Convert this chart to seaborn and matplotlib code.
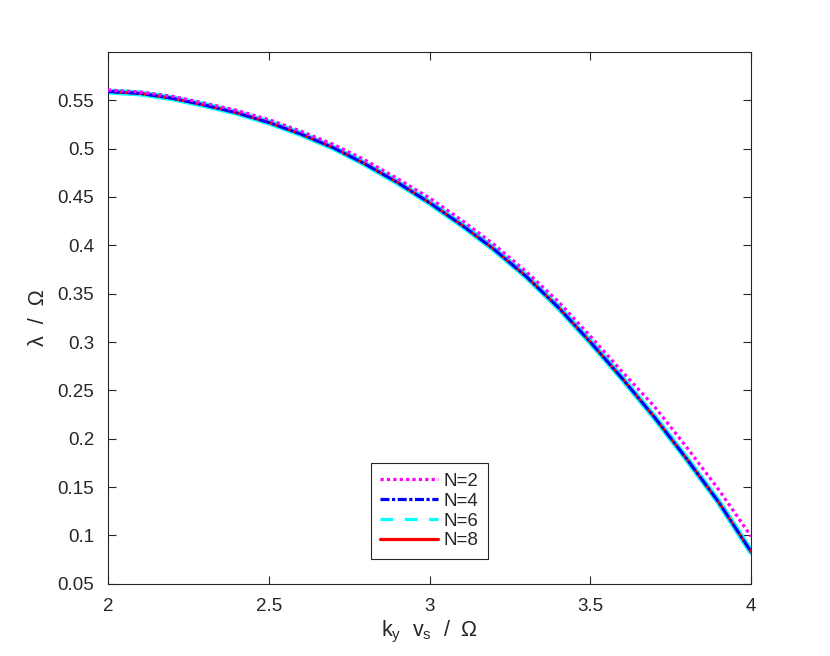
#!/usr/bin/env python3
"""Growth rate versus k_y v_s for several truncation orders N."""

import matplotlib
matplotlib.use("Agg")
import matplotlib.pyplot as plt
import pandas as pd
import seaborn as sns
from matplotlib.lines import Line2D

# Values
KY = [2.0, 2.1, 2.2, 2.3, 2.4, 2.5, 2.6, 2.7, 2.8, 2.9, 3.0,
      3.1, 3.2, 3.3, 3.4, 3.5, 3.6, 3.7, 3.8, 3.9, 4.0]
LAM_N2 = [0.5605, 0.5585, 0.554, 0.547, 0.5395, 0.530, 0.518, 0.5045,
          0.488, 0.469, 0.449, 0.426, 0.401, 0.373, 0.342, 0.306, 0.269,
          0.233, 0.191, 0.147, 0.099]
LAM_N4 = [0.559, 0.557, 0.552, 0.545, 0.537, 0.527, 0.515, 0.501, 0.484,
          0.465, 0.444, 0.421, 0.396, 0.368, 0.336, 0.300, 0.262, 0.222,
          0.179, 0.134, 0.083]
LAM_N6 = [0.559, 0.557, 0.552, 0.545, 0.537, 0.527, 0.515, 0.501, 0.484,
          0.465, 0.444, 0.421, 0.396, 0.368, 0.336, 0.300, 0.262, 0.222,
          0.179, 0.134, 0.083]
LAM_N8 = [0.559, 0.557, 0.552, 0.545, 0.537, 0.527, 0.515, 0.501, 0.484,
          0.465, 0.444, 0.421, 0.396, 0.368, 0.336, 0.300, 0.262, 0.222,
          0.179, 0.134, 0.083]
LABELS = ["N=2", "N=4", "N=6", "N=8"]


def main():
    sns.set_theme(style="ticks")
    plt.rcParams["font.family"] = ["Liberation Sans", "DejaVu Sans"]
    plt.rcParams["mathtext.fontset"] = "custom"
    plt.rcParams["mathtext.rm"] = "Liberation Sans"

    df = pd.DataFrame({"ky": KY, "N=2": LAM_N2, "N=4": LAM_N4,
                       "N=6": LAM_N6, "N=8": LAM_N8})

    fig = plt.figure(figsize=(8.3, 6.56), dpi=100)
    ax = fig.add_axes([0.130, 0.110, 0.775, 0.811])

    # (colour, dash pattern in plot, dash pattern in legend, width, zorder)
    styles = {"N=2": ("#ff00ff", (1.0, 1.0), (1.0, 1.0), 2.3, 5),
              "N=4": ("#0000ff", (4.0, 0.8, 1.0, 0.8),
                      (2.8, 0.8, 1.0, 0.8), 2.1, 4),
              # dense Octave dashes read as a solid band along the curve
              "N=6": ("#00ffff", None, (4.0, 3.6), 4.4, 2),
              "N=8": ("#ff0000", None, None, 2.1, 3)}
    handles = []
    for lab in LABELS:
        col, dash, leg_dash, lw, z = styles[lab]
        sns.lineplot(data=df, x="ky", y=lab, color=col, linewidth=lw,
                     ax=ax, zorder=z, legend=False)
        line = ax.lines[-1]
        if dash is not None:
            line.set_dashes(dash)
        line.set_dash_capstyle("butt")
        proxy = Line2D([], [], color=col, linewidth=2.3,
                       dash_capstyle="butt")
        if leg_dash is not None:
            proxy.set_dashes(leg_dash)
        handles.append(proxy)

    # Axes
    ax.set(xlim=(2, 4), ylim=(0.05, 0.6))
    ax.set_xticks([2, 2.5, 3, 3.5, 4])
    ax.set_xticklabels(["2", "2.5", "3", "3.5", "4"])
    yt = [0.05, 0.1, 0.15, 0.2, 0.25, 0.3, 0.35, 0.4, 0.45, 0.5, 0.55]
    ax.set_yticks(yt)
    ax.set_yticklabels([f"{v:g}" for v in yt])
    ax.tick_params(direction="in", length=6, width=0.8, colors="#262626",
                   labelsize=13.5, pad=10, top=True, right=True)
    for s in ax.spines.values():
        s.set_visible(True)
        s.set_color("#262626")
        s.set_linewidth(0.8)
    ax.set_xlabel(r"k$_\mathregular{y}$  v$_\mathregular{s}$  /  Ω",
                  fontsize=15.5, color="#262626", labelpad=3)
    ax.set_ylabel("λ  /  Ω", fontsize=15.5, color="#262626", labelpad=6)

    # Legend
    leg = ax.legend(handles=handles, labels=LABELS, loc="lower center",
                    bbox_to_anchor=(0.5, 0.047), fontsize=13.5,
                    handlelength=3.1, fancybox=False, framealpha=1,
                    edgecolor="#262626", borderaxespad=0, labelspacing=0.15,
                    handletextpad=0.3, borderpad=0.5)
    leg.get_frame().set_linewidth(0.8)

    fig.savefig("out.png", dpi=100)


if __name__ == "__main__":
    main()
